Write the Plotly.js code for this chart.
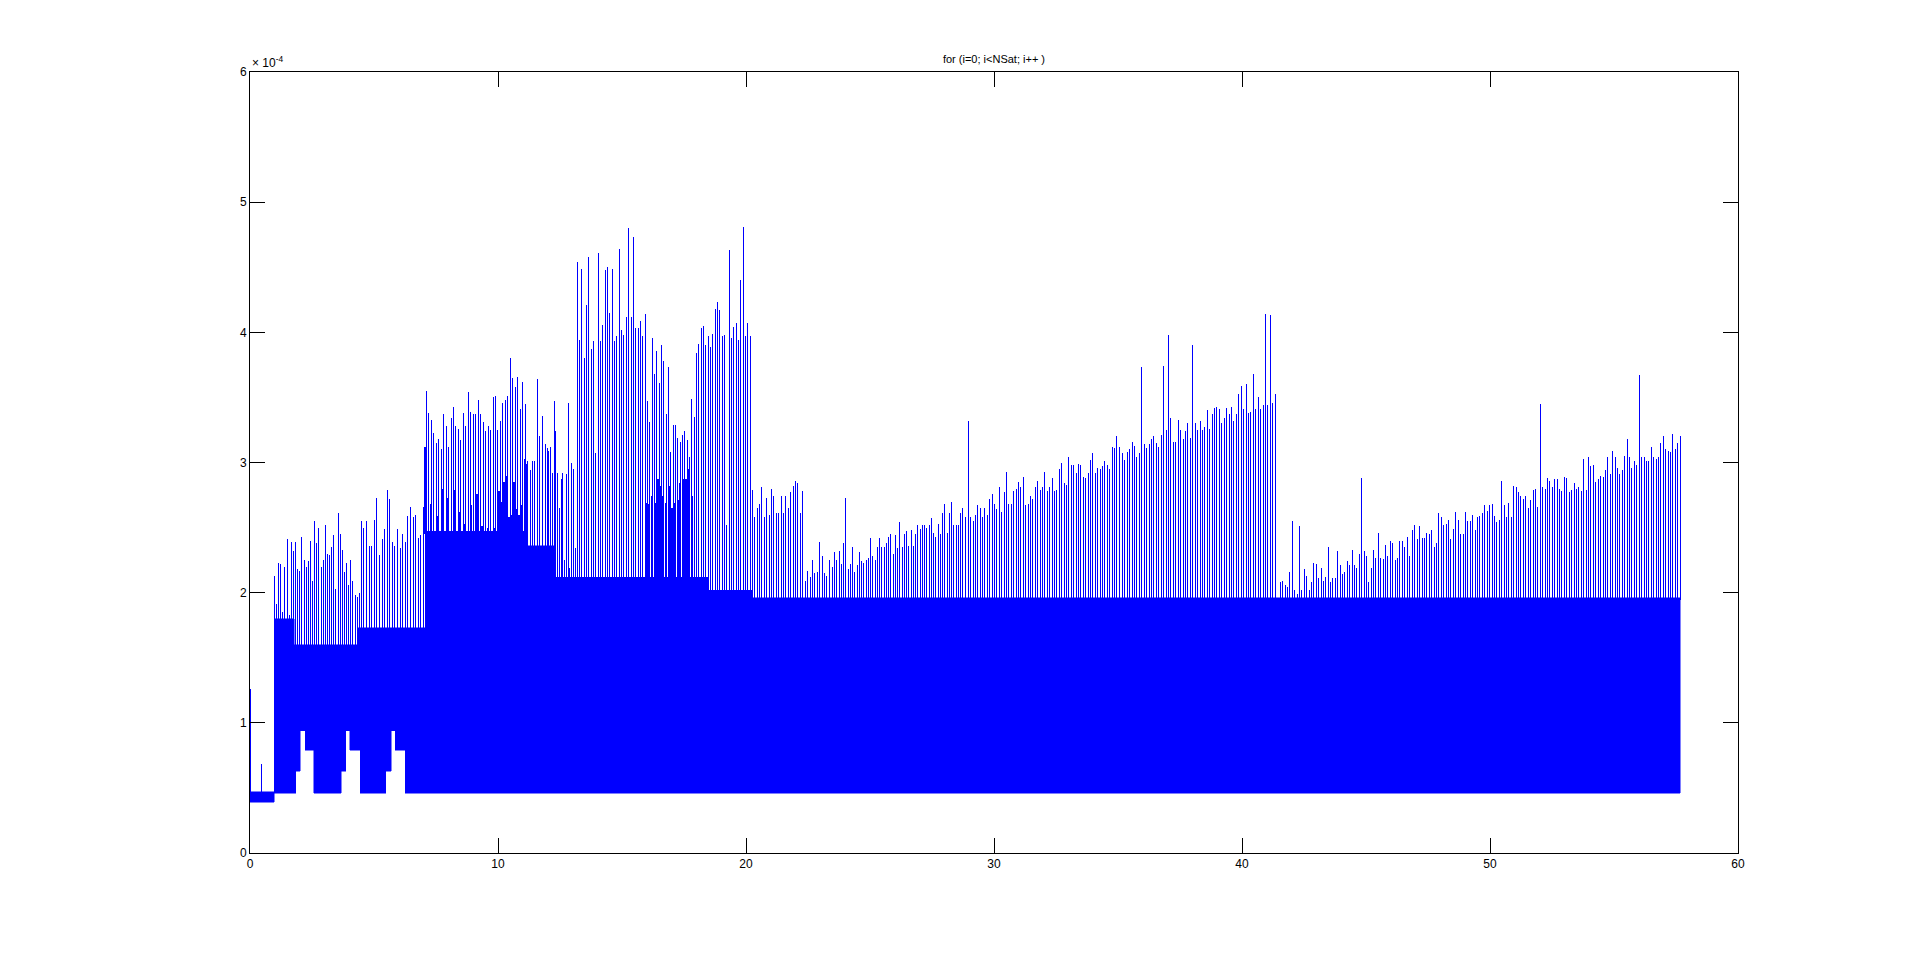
<!DOCTYPE html>
<html>
<head>
<meta charset="utf-8">
<script src="https://cdn.plot.ly/plotly-3.0.1.min.js"></script>
<style>
body { margin: 0; background: #fff; }
#plot { width: 1920px; height: 959px; }
.scatterlayer path { shape-rendering: crispEdges; }
</style>
</head>
<body>
<div id="plot"></div>
<script>
// values are in units of 1e-4 (the axis shows "x 10^-4")

// dense band: step segments [bandX[i], bandX[i+1]) with bottom / top level
var bandX    = [0, 0.98, 1.79, 1.84, 2.02, 2.22, 2.58, 3.67, 3.87, 4.03, 4.37, 4.44, 5.48, 5.69, 5.85, 6.25, 7.06, 11.2, 12.25, 18.5, 20.25, 57.67];
var bandLow  = [0.39, 0.46, 0.46, 0.63, 0.94, 0.79, 0.46, 0.63, 0.94, 0.79, 0.79, 0.46, 0.63, 0.94, 0.79, 0.46, 0.46, 0.46, 0.46, 0.46, 0.46];
var bandHigh = [0.47, 1.80, 1.60, 1.60, 1.60, 1.60, 1.60, 1.60, 1.60, 1.60, 1.73, 1.73, 1.73, 1.73, 1.73, 1.73, 2.47, 2.36, 2.12, 2.02, 1.96];

// first samples before the band starts
var earlyX = [0.03, 0.46];
var earlyY = [1.26, 0.68];

// spike tops, read left to right, spread over [start, end] of each group
var peaksA1 = [2.13,1.91,2.23,2.22,1.85,2.20,2.41,1.83,2.39,2.32,2.39,2.18,2.17,2.43,2.25,2.20,2.24,2.40,2.09,2.55,
  2.38,2.50,2.20,2.25,2.52,2.30,2.29,2.35,2.44,2.03,2.61,2.45,2.33,2.16,2.23,2.06,2.25,2.09,1.98,1.97,2.00];
var peaksA2 = [2.55,2.50,2.55,2.36,2.36,2.56,2.73,2.29,2.41,2.49,2.79,2.72,2.39,2.36,2.49,2.34,2.45,2.39,2.59,2.66,
  2.58,2.60,2.42,2.44,2.66];
var peaksB = [3.55,3.38,3.33,3.23,3.15,3.18,3.10,3.37,3.28,3.12,3.34,3.43,3.28,3.26,3.17,3.38,3.28,3.54,3.39,3.37,
  3.37,3.48,3.37,3.31,3.24,3.28,3.25,3.50,3.51,3.25,3.32,3.46,3.48,3.51,3.80,3.65,3.58,3.66,3.41,3.62,
  3.45,3.01,2.94,3.01,3.01,3.64,3.20,3.36];
var peaksC1 = [3.14,3.11,3.09,3.12,2.92,3.47,3.24,2.92,2.65,2.87,2.92,2.25,2.91,3.46,2.19,3.00,2.95,2.34];
var peaksC2 = [4.54,3.94,4.49,3.80,4.21,4.58,3.87,3.93,3.07,4.61,3.93,4.06,4.48,4.50,4.15,4.49,3.93,3.97,4.64,4.02,
  3.98,4.12,4.80,4.12,4.73,4.03,4.03,4.09,3.97,4.14,3.47,3.31,3.96,3.68,3.86,3.61,3.90,3.78,3.37,3.73,
  3.08,3.29,3.29,3.19,3.16,3.21,3.24,3.17,3.04,3.49,3.35,3.84,3.91,4.03,4.05,3.90,3.97,3.89,3.99,4.18,
  4.23,4.17,3.97,3.98,2.52,4.63,3.96,4.04,4.07,3.94,4.40,4.81,3.97,4.07,3.97];
var peaksC3 = [2.79,2.58,2.65,2.68,2.81,2.58,2.73,2.60,2.80,2.74,2.61,2.61,2.74,2.61,2.74,2.65,2.77,2.82,2.86,2.84,
  2.61,2.78,2.09,2.17,2.12,2.25,2.15,2.16,2.39,2.28,2.15,2.13,2.25];
var peaksD1 = [2.20,2.31,2.25,2.32,2.22,2.38,2.73,2.18,2.22,2.35,2.16,2.21,2.31,2.24,2.23,2.25,2.27,2.42,2.28,2.25,
  2.35,2.42,2.35,2.35,2.38,2.43,2.45,2.30,2.44,2.34,2.54,2.35,2.45,2.47,2.36,2.48,2.36,2.45,2.52,2.49,
  2.52,2.52,2.50,2.52,2.57,2.46,2.43,2.53,2.45,2.61,2.68,2.46,2.61,2.70,2.52,2.52,2.52,2.61,2.65,2.58];
var peaksD2 = [3.32,2.58,2.55,2.60,2.67,2.65,2.58,2.65,2.60,2.72,2.76,2.68,2.64,2.81,2.62,2.77,2.93,2.68,2.68,2.78,
  2.80,2.85,2.81,2.89,2.67,2.68,2.74,2.72,2.81,2.86,2.79,2.81,2.93,2.78,2.81,2.88,2.78,2.79,2.95,3.00,
  2.84,2.83,3.04,2.98,2.98,2.92,2.99,2.98,2.89,2.88,2.92,3.02,3.07,2.92,2.96,2.95,2.97,3.01,2.98,2.95,
  3.12,3.11,3.20,3.12];
var peaksE = [3.07,3.02,3.08,3.10,3.16,3.13,3.04,3.07,3.73,3.14,3.11,3.14,3.18,3.20,3.15,3.12,3.21,3.74,3.25,3.98,
  3.34,3.16,3.16,3.33,3.25,3.18,3.24,3.30,3.19,3.90,3.30,3.25,3.32,3.25,3.27,3.40,3.26,3.37,3.42,3.43,
  3.41,3.30,3.34,3.42,3.37,3.43,3.32,3.37,3.53,3.59,3.41,3.60,3.38,3.39,3.68,3.41,3.50,3.41,3.44,4.14,
  3.44,4.13,3.46,3.53];
var peaksF = [2.08,2.09,2.06,2.04,2.16,2.55,2.02,1.99,2.51,2.02,2.18,2.13,2.02,2.08,2.23,2.22,2.11,2.19,2.09,2.12,
  2.35,2.08,2.11,2.11,2.32,2.21,2.14,2.16,2.24,2.21,2.33,2.21,2.19,2.30,2.88,2.32,2.28,2.08,2.19,2.33,
  2.27,2.46,2.27,2.26,2.37,2.28,2.40,2.38,2.25,2.27,2.40,2.40,2.35,2.43,2.28];
var peaksG = [2.48,2.52,2.41,2.51,2.42,2.42,2.46,2.45,2.48,2.35,2.38,2.61,2.58,2.52,2.53,2.56,2.41,2.49,2.62,2.56,
  2.45,2.45,2.62,2.55,2.55,2.60,2.48,2.58,2.59,2.61,2.67,2.63,2.67,2.68,2.59,2.54,2.56,2.86,2.67,2.58,
  2.69,2.58,2.82,2.81,2.77,2.74,2.72,2.74,2.65,2.71,2.79,2.80,2.66,3.45,2.81,2.80,2.88,2.86,2.81,2.87,
  2.87,2.80,2.78,2.89,2.88,2.77,2.79,2.84,2.80,2.81,2.78,3.03,2.79,3.04,2.97,2.98,2.85,2.87,2.90,2.89,
  2.94,3.04,2.91,3.09,3.04,2.96,2.91,2.94,3.05,3.18,3.04,2.96,3.01,2.98,3.67,3.04,3.04,3.01,3.01,3.12,
  3.04,3.03,3.04,3.15,3.20,3.10,3.09,3.08,3.22,3.10,3.15,3.20];

var groupPeaks = [peaksA1, peaksA2, peaksB, peaksC1, peaksC2, peaksC3, peaksD1, peaksD2, peaksE, peaksF, peaksG];
var groupStart = [0.98, 4.49, 7.11, 11.905, 13.195, 20.25, 23.48, 28.96, 35.175, 41.55, 46.87];
var groupEnd   = [4.41, 6.99, 11.79, 13.115, 20.17, 23.36, 28.84, 35.05, 41.34, 46.75, 57.67];

// shorter companion spikes that thicken the band in a few stretches
var compB1 = [3.12,2.68,2.59,2.80,2.73,2.79,2.62,2.53,2.67,2.76,2.51,2.50,2.50];
var compB2 = [2.78,2.70,2.85,2.90,2.58,2.60,2.85,2.64,2.60,2.67,3.03,2.99];
var compC  = [2.69,2.68,2.74,2.69,2.87,2.82,2.74,2.69,2.82,2.65,2.69,2.71,2.84,2.87,2.87,2.95,2.74];
var compPeaks = [compB1, compB2, compC];
var compStart = [7.06, 10.03, 15.99];
var compEnd   = [9.83, 11.18, 17.81];

var xTicks = [0, 10, 20, 30, 40, 50, 60];
var yTicks = [0, 1, 2, 3, 4, 5, 6];

function bandTopAt(x) {
  for (var i = 0; i < bandHigh.length; i++) {
    if (x >= bandX[i] && x < bandX[i + 1]) return bandHigh[i];
  }
  return bandHigh[bandHigh.length - 1];
}

// band outline: top edge left->right, bottom edge right->left
var bx = [], by = [];
for (var i = 0; i < bandHigh.length; i++) {
  bx.push(bandX[i], bandX[i + 1]);
  by.push(bandHigh[i], bandHigh[i]);
}
for (var i = bandLow.length - 1; i >= 0; i--) {
  bx.push(bandX[i + 1], bandX[i]);
  by.push(bandLow[i], bandLow[i]);
}

// vertical segments from the band top up to each peak, separated by gaps
function spikeLines(peaks, starts, ends) {
  var xs = [], ys = [];
  for (var g = 0; g < peaks.length; g++) {
    var h = peaks[g];
    var step = (ends[g] - starts[g]) / (h.length - 1);
    for (var k = 0; k < h.length; k++) {
      var x = starts[g] + k * step;
      xs.push(x, x, null);
      ys.push(bandTopAt(x) - 0.02, h[k], null);
    }
  }
  return {x: xs, y: ys};
}

var tall = spikeLines(groupPeaks, groupStart, groupEnd);
for (var k = 0; k < earlyX.length; k++) {
  tall.x.push(earlyX[k], earlyX[k], null);
  tall.y.push(bandLow[0], earlyY[k], null);
}
var comp = spikeLines(compPeaks, compStart, compEnd);

var band = {
  x: bx, y: by,
  type: "scatter", mode: "lines",
  fill: "toself", fillcolor: "#0000ff",
  line: {color: "#0000ff", width: 0.5},
  hoverinfo: "skip"
};

var companions = {
  x: comp.x, y: comp.y,
  type: "scatter", mode: "lines",
  line: {color: "#0000ff", width: 2},
  connectgaps: false,
  hoverinfo: "skip"
};

var spikes = {
  x: tall.x, y: tall.y,
  type: "scatter", mode: "lines",
  line: {color: "#0000ff", width: 1},
  connectgaps: false,
  hoverinfo: "skip"
};

var axisStyle = {
  showline: true, linecolor: "#000", linewidth: 1, mirror: "ticks",
  ticks: "inside", ticklen: 15, tickwidth: 1, tickcolor: "#000",
  showgrid: false, zeroline: false,
  tickfont: {family: "Liberation Sans, Arial, sans-serif", size: 12, color: "#000"}
};

var layout = {
  width: 1920, height: 959,
  margin: {l: 250, r: 182, t: 72, b: 106},
  paper_bgcolor: "#fff", plot_bgcolor: "#fff",
  showlegend: false,
  title: {
    text: "for (i=0; i&lt;NSat; i++ )",
    font: {family: "Liberation Sans, Arial, sans-serif", size: 11, color: "#000"},
    x: 0.5, xref: "paper", xanchor: "center",
    y: 1, yref: "paper", yanchor: "bottom", pad: {b: 9}
  },
  xaxis: Object.assign({}, axisStyle, {range: [0, 60], tickvals: xTicks, ticktext: xTicks.map(String)}),
  yaxis: Object.assign({}, axisStyle, {range: [0, 6], tickvals: yTicks, ticktext: yTicks.map(String)}),
  annotations: [{
    text: "× 10<sup>-4</sup>",
    xref: "paper", yref: "paper", x: 0, y: 1,
    xanchor: "left", yanchor: "bottom", showarrow: false,
    font: {family: "Liberation Sans, Arial, sans-serif", size: 12, color: "#000"}
  }]
};

Plotly.newPlot("plot", [band, companions, spikes], layout, {staticPlot: true});
</script>
</body>
</html>
